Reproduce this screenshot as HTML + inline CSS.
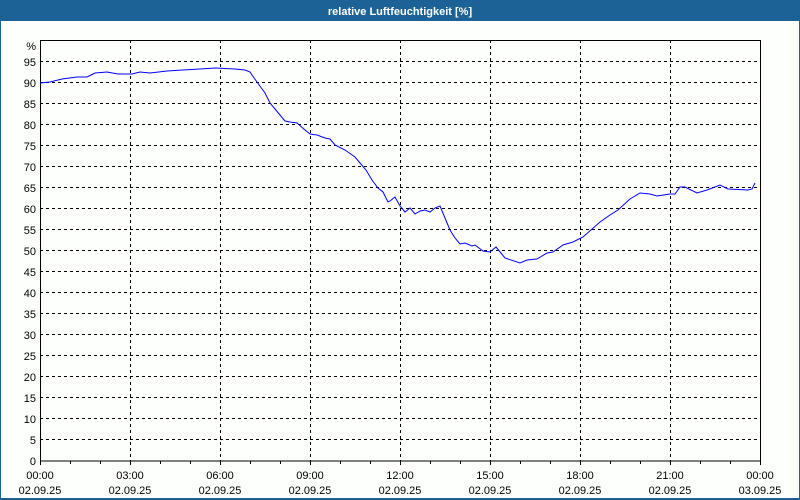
<!DOCTYPE html>
<html><head><meta charset="utf-8"><style>
html,body{margin:0;padding:0;background:#fff;}
svg{display:block;}
text{font-family:"Liberation Sans","DejaVu Sans",sans-serif;font-size:11px;fill:#000;}
</style></head><body>
<svg width="800" height="500" xmlns="http://www.w3.org/2000/svg">
<rect x="0" y="0" width="800" height="500" fill="#1c6296"/>
<rect x="1" y="21" width="798" height="477" fill="#fdfffd"/>
<text x="400" y="15" text-anchor="middle" style="font-weight:bold;fill:#fff;font-size:11px">relative Luftfeuchtigkeit [%]</text>
<g stroke="#000" stroke-width="1" stroke-dasharray="3,3" shape-rendering="crispEdges">
<line x1="40" x2="760" y1="61.5" y2="61.5"/><line x1="40" x2="760" y1="82.5" y2="82.5"/><line x1="40" x2="760" y1="103.5" y2="103.5"/><line x1="40" x2="760" y1="124.5" y2="124.5"/><line x1="40" x2="760" y1="145.5" y2="145.5"/><line x1="40" x2="760" y1="166.5" y2="166.5"/><line x1="40" x2="760" y1="187.5" y2="187.5"/><line x1="40" x2="760" y1="208.5" y2="208.5"/><line x1="40" x2="760" y1="229.5" y2="229.5"/><line x1="40" x2="760" y1="250.5" y2="250.5"/><line x1="40" x2="760" y1="271.5" y2="271.5"/><line x1="40" x2="760" y1="292.5" y2="292.5"/><line x1="40" x2="760" y1="313.5" y2="313.5"/><line x1="40" x2="760" y1="334.5" y2="334.5"/><line x1="40" x2="760" y1="355.5" y2="355.5"/><line x1="40" x2="760" y1="376.5" y2="376.5"/><line x1="40" x2="760" y1="397.5" y2="397.5"/><line x1="40" x2="760" y1="418.5" y2="418.5"/><line x1="40" x2="760" y1="439.5" y2="439.5"/>
<line x1="130.5" x2="130.5" y1="40" y2="461"/><line x1="220.5" x2="220.5" y1="40" y2="461"/><line x1="310.5" x2="310.5" y1="40" y2="461"/><line x1="400.5" x2="400.5" y1="40" y2="461"/><line x1="490.5" x2="490.5" y1="40" y2="461"/><line x1="580.5" x2="580.5" y1="40" y2="461"/><line x1="670.5" x2="670.5" y1="40" y2="461"/>
</g>
<rect x="40.5" y="40.5" width="720" height="420.5" fill="none" stroke="#000" shape-rendering="crispEdges"/>
<g stroke="#000" shape-rendering="crispEdges">
<line x1="40.5" x2="40.5" y1="461" y2="465"/><line x1="70.5" x2="70.5" y1="461" y2="464"/><line x1="100.5" x2="100.5" y1="461" y2="464"/><line x1="130.5" x2="130.5" y1="461" y2="465"/><line x1="160.5" x2="160.5" y1="461" y2="464"/><line x1="190.5" x2="190.5" y1="461" y2="464"/><line x1="220.5" x2="220.5" y1="461" y2="465"/><line x1="250.5" x2="250.5" y1="461" y2="464"/><line x1="280.5" x2="280.5" y1="461" y2="464"/><line x1="310.5" x2="310.5" y1="461" y2="465"/><line x1="340.5" x2="340.5" y1="461" y2="464"/><line x1="370.5" x2="370.5" y1="461" y2="464"/><line x1="400.5" x2="400.5" y1="461" y2="465"/><line x1="430.5" x2="430.5" y1="461" y2="464"/><line x1="460.5" x2="460.5" y1="461" y2="464"/><line x1="490.5" x2="490.5" y1="461" y2="465"/><line x1="520.5" x2="520.5" y1="461" y2="464"/><line x1="550.5" x2="550.5" y1="461" y2="464"/><line x1="580.5" x2="580.5" y1="461" y2="465"/><line x1="610.5" x2="610.5" y1="461" y2="464"/><line x1="640.5" x2="640.5" y1="461" y2="464"/><line x1="670.5" x2="670.5" y1="461" y2="465"/><line x1="700.5" x2="700.5" y1="461" y2="464"/><line x1="730.5" x2="730.5" y1="461" y2="464"/><line x1="760.5" x2="760.5" y1="461" y2="465"/>
</g>
<g text-anchor="end">
<text x="36" y="50">%</text>
<text x="36" y="66">95</text><text x="36" y="87">90</text><text x="36" y="108">85</text><text x="36" y="129">80</text><text x="36" y="150">75</text><text x="36" y="171">70</text><text x="36" y="192">65</text><text x="36" y="213">60</text><text x="36" y="234">55</text><text x="36" y="255">50</text><text x="36" y="276">45</text><text x="36" y="297">40</text><text x="36" y="318">35</text><text x="36" y="339">30</text><text x="36" y="360">25</text><text x="36" y="381">20</text><text x="36" y="402">15</text><text x="36" y="423">10</text><text x="36" y="444">5</text><text x="36" y="465">0</text>
</g>
<g text-anchor="middle">
<text x="40" y="479">00:00</text><text x="40" y="494">02.09.25</text>
<text x="130" y="479">03:00</text><text x="130" y="494">02.09.25</text>
<text x="220" y="479">06:00</text><text x="220" y="494">02.09.25</text>
<text x="310" y="479">09:00</text><text x="310" y="494">02.09.25</text>
<text x="400" y="479">12:00</text><text x="400" y="494">02.09.25</text>
<text x="490" y="479">15:00</text><text x="490" y="494">02.09.25</text>
<text x="580" y="479">18:00</text><text x="580" y="494">02.09.25</text>
<text x="670" y="479">21:00</text><text x="670" y="494">02.09.25</text>
<text x="760" y="479">00:00</text><text x="760" y="494">03.09.25</text>
</g>
<polyline fill="none" stroke="#0000ff" stroke-width="1" points="40,83 50,82 62,79 77,77 87,77 95,73 107,72 118,74 132,74 140,72 150,73 167,71 183,70 200,69 215,68 235,69 245,70 250,72 252,75 257,82 265,93 270,103 280,115 285,121 290,122 297,123 305,130 310,134 317,135 325,138 330,139 335,145 345,150 355,157 360,163 366,170 372,180 378,188 383,192 388,202 390,201 395,197 400,206 405,212 410,208 415,214 420,211 425,210 430,212 435,208 440,206 445,218 450,230 455,238 460,244 465,243 472,246 475,245 483,251 490,252 496,247 505,258 520,263 527,260 537,259 547,253 553,252 563,245 573,242 583,237 600,222 610,215 618,210 630,199 640,193 650,194 657,196 670,194 675,194 680,187 685,187 697,193 707,190 720,185 728,189 748,190 752,189 755,183"/>
</svg>
</body></html>
